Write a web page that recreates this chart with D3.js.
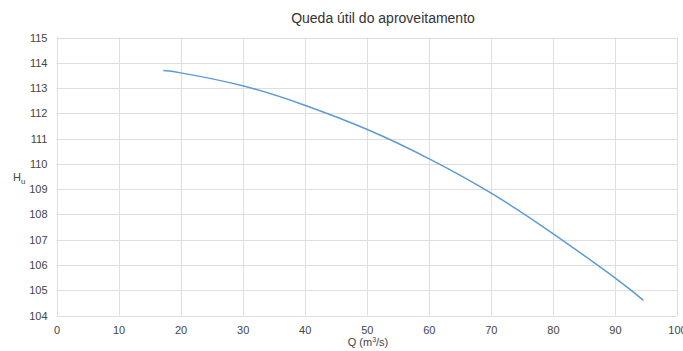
<!DOCTYPE html>
<html>
<head>
<meta charset="utf-8">
<script src="https://cdn.jsdelivr.net/npm/d3@7"></script>
<style>
  html, body { margin: 0; padding: 0; background: #fff; }
  svg { display: block; font-family: "Liberation Sans", Arial, Helvetica, sans-serif; }
</style>
</head>
<body>
<svg id="chart" width="683" height="351"></svg>
<script>
// Net head curve of the hydro scheme: flow Q (m³/s) versus useful head Hu (m)
const flowQ = [17.2, 20, 30, 40, 50, 60, 70, 80, 90, 94.6];
const headHu = [113.69, 113.60, 113.09, 112.32, 111.37, 110.21, 108.85, 107.24, 105.49, 104.60];
const xTicks = [0, 10, 20, 30, 40, 50, 60, 70, 80, 90, 100];
const yTicks = [104, 105, 106, 107, 108, 109, 110, 111, 112, 113, 114, 115];

const svg = d3.select("#chart");
const margin = { left: 56.5, right: 6, top: 37.5, bottom: 35.5 };
const W = 683, H = 351;

const x = d3.scaleLinear().domain([0, 100]).range([margin.left, W - margin.right]);
const y = d3.scaleLinear().domain([104, 115]).range([H - margin.bottom, margin.top]);

const gridColor = "#dedede";
const textColor = "#444";

// Grid
const grid = svg.append("g");
grid.selectAll("line.v").data(xTicks).join("line")
  .attr("x1", d => Math.round(x(d)) + 0.5).attr("x2", d => Math.round(x(d)) + 0.5)
  .attr("y1", y(115)).attr("y2", y(104))
  .attr("stroke", gridColor).attr("stroke-width", 1);
grid.selectAll("line.h").data(yTicks).join("line")
  .attr("x1", x(0)).attr("x2", x(100))
  .attr("y1", d => Math.round(y(d)) + 0.5).attr("y2", d => Math.round(y(d)) + 0.5)
  .attr("stroke", gridColor).attr("stroke-width", 1);

// Axes (labels only; grid draws the lines)
const xAxis = svg.append("g")
  .attr("transform", `translate(0,${y(104)})`)
  .call(d3.axisBottom(x).tickValues(xTicks).tickSize(0).tickPadding(11).tickFormat(d3.format("d")));
const yAxis = svg.append("g")
  .attr("transform", `translate(${x(0)},0)`)
  .call(d3.axisLeft(y).tickValues(yTicks).tickSize(0).tickPadding(9).tickFormat(d3.format("d")));
[xAxis, yAxis].forEach(a => {
  a.select(".domain").remove();
  a.selectAll("text").attr("fill", textColor).style("font-size", "11px")
    .style("font-family", "'Liberation Sans', Arial, sans-serif");
});

// Curve
const line = d3.line()
  .x((d, i) => x(flowQ[i]))
  .y(d => y(d))
  .curve(d3.curveNatural);
svg.append("path")
  .datum(headHu)
  .attr("d", line)
  .attr("fill", "none")
  .attr("stroke", "#5b9bd5")
  .attr("stroke-width", 1.5);

// Title
svg.append("text")
  .attr("x", 383).attr("y", 23)
  .attr("text-anchor", "middle")
  .attr("fill", "#333")
  .style("font-size", "14px")
  .text("Queda útil do aproveitamento");

// Axis titles
const xt = svg.append("text")
  .attr("x", 368).attr("y", 346)
  .attr("text-anchor", "middle")
  .attr("fill", textColor)
  .style("font-size", "11px");
xt.append("tspan").text("Q (m");
xt.append("tspan").attr("dy", -4).style("font-size", "7px").text("3");
xt.append("tspan").attr("dy", 4).text("/s)");

const yt = svg.append("text")
  .attr("x", 13).attr("y", 181)
  .attr("fill", textColor)
  .style("font-size", "11px");
yt.append("tspan").text("H");
yt.append("tspan").attr("dy", 3).style("font-size", "8px").text("u");
</script>
</body>
</html>
